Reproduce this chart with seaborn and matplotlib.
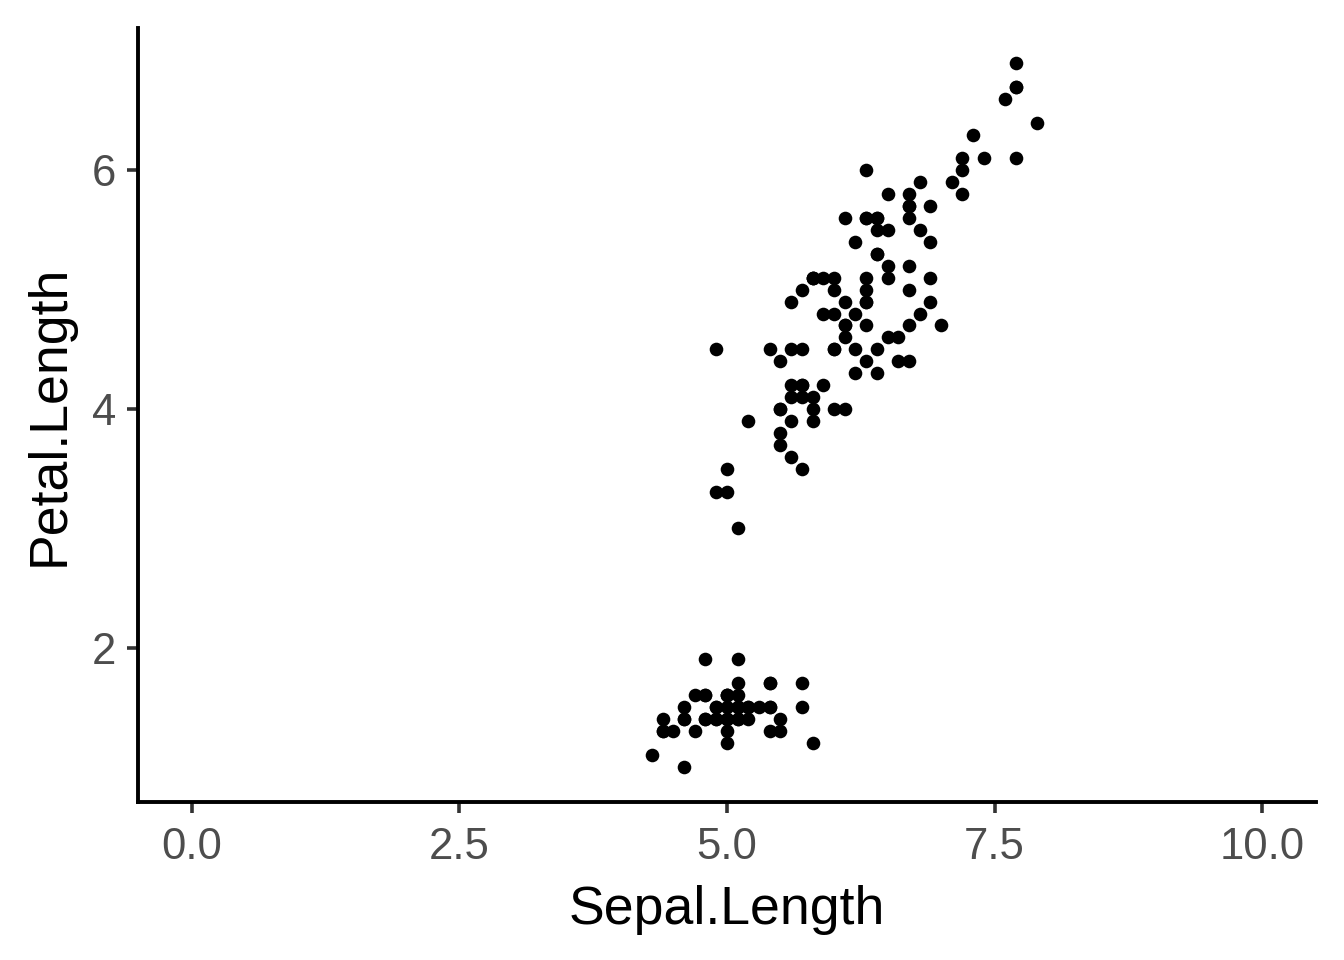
import matplotlib
matplotlib.use("Agg")
import matplotlib.pyplot as plt
import seaborn as sns
import pandas as pd

# iris: Sepal.Length vs Petal.Length
sepal_length = [
    5.1, 4.9, 4.7, 4.6, 5.0, 5.4, 4.6, 5.0, 4.4, 4.9, 5.4, 4.8, 4.8, 4.3, 5.8, 5.7, 5.4, 5.1, 5.7, 5.1,
    5.4, 5.1, 4.6, 5.1, 4.8, 5.0, 5.0, 5.2, 5.2, 4.7, 4.8, 5.4, 5.2, 5.5, 4.9, 5.0, 5.5, 4.9, 4.4, 5.1,
    5.0, 4.5, 4.4, 5.0, 5.1, 4.8, 5.1, 4.6, 5.3, 5.0,
    7.0, 6.4, 6.9, 5.5, 6.5, 5.7, 6.3, 4.9, 6.6, 5.2, 5.0, 5.9, 6.0, 6.1, 5.6, 6.7, 5.6, 5.8, 6.2, 5.6,
    5.9, 6.1, 6.3, 6.1, 6.4, 6.6, 6.8, 6.7, 6.0, 5.7, 5.5, 5.5, 5.8, 6.0, 5.4, 6.0, 6.7, 6.3, 5.6, 5.5,
    5.5, 6.1, 5.8, 5.0, 5.6, 5.7, 5.7, 6.2, 5.1, 5.7,
    6.3, 5.8, 7.1, 6.3, 6.5, 7.6, 4.9, 7.3, 6.7, 7.2, 6.5, 6.4, 6.8, 5.7, 5.8, 6.4, 6.5, 7.7, 7.7, 6.0,
    6.9, 5.6, 7.7, 6.3, 6.7, 7.2, 6.2, 6.1, 6.4, 7.2, 7.4, 7.9, 6.4, 6.3, 6.1, 7.7, 6.3, 6.4, 6.0, 6.9,
    6.7, 6.9, 5.8, 6.8, 6.7, 6.7, 6.3, 6.5, 6.2, 5.9,
]
petal_length = [
    1.4, 1.4, 1.3, 1.5, 1.4, 1.7, 1.4, 1.5, 1.4, 1.5, 1.5, 1.6, 1.4, 1.1, 1.2, 1.5, 1.3, 1.4, 1.7, 1.5,
    1.7, 1.5, 1.0, 1.7, 1.9, 1.6, 1.6, 1.5, 1.4, 1.6, 1.6, 1.5, 1.5, 1.4, 1.5, 1.2, 1.3, 1.4, 1.3, 1.5,
    1.3, 1.3, 1.3, 1.6, 1.9, 1.4, 1.6, 1.4, 1.5, 1.4,
    4.7, 4.5, 4.9, 4.0, 4.6, 4.5, 4.7, 3.3, 4.6, 3.9, 3.5, 4.2, 4.0, 4.7, 3.6, 4.4, 4.5, 4.1, 4.5, 3.9,
    4.8, 4.0, 4.9, 4.7, 4.3, 4.4, 4.8, 5.0, 4.5, 3.5, 3.8, 3.7, 3.9, 5.1, 4.5, 4.5, 4.7, 4.4, 4.1, 4.0,
    4.4, 4.6, 4.0, 3.3, 4.2, 4.2, 4.2, 4.3, 3.0, 4.1,
    6.0, 5.1, 5.9, 5.6, 5.8, 6.6, 4.5, 6.3, 5.8, 6.1, 5.1, 5.3, 5.5, 5.0, 5.1, 5.3, 5.5, 6.7, 6.9, 5.0,
    5.7, 4.9, 6.7, 4.9, 5.7, 6.0, 4.8, 4.9, 5.6, 5.8, 6.1, 6.4, 5.6, 5.1, 5.6, 6.1, 5.6, 5.5, 4.8, 5.4,
    5.6, 5.1, 5.1, 5.9, 5.7, 5.2, 5.0, 5.2, 5.4, 5.1,
]
x_ticks = [0.0, 2.5, 5.0, 7.5, 10.0]
y_ticks = [2, 4, 6]

df = pd.DataFrame({"Sepal.Length": sepal_length, "Petal.Length": petal_length})

sns.set_style("ticks")
plt.rcParams["font.family"] = ["Liberation Sans", "DejaVu Sans"]

fig = plt.figure(figsize=(6.72, 4.8), dpi=200)
ax = fig.add_axes([0.1027, 0.1646, 0.8763, 0.8064])

sns.scatterplot(data=df, x="Sepal.Length", y="Petal.Length", ax=ax,
                color="black", s=24, linewidth=0)

ax.set_xlim(-0.5, 10.5)
ax.set_ylim(0.705, 7.195)
ax.set_xticks(x_ticks)
ax.set_xticklabels([f"{t:.1f}" for t in x_ticks])
ax.set_yticks(y_ticks)
ax.set_yticklabels([str(t) for t in y_ticks])

sns.despine(ax=ax)
for sp in ["left", "bottom"]:
    ax.spines[sp].set_linewidth(1.4)
    ax.spines[sp].set_color("black")
ax.tick_params(axis="both", length=4, width=1.3, color="#333333",
               labelsize=15.7, labelcolor="#4D4D4D", pad=5)
ax.tick_params(axis="y", pad=4)

ax.set_xlabel("Sepal.Length", fontsize=19.3, color="black", labelpad=6)
ax.set_ylabel("Petal.Length", fontsize=19.3, color="black", labelpad=6)

fig.savefig("out.png", dpi=200, facecolor="white")
